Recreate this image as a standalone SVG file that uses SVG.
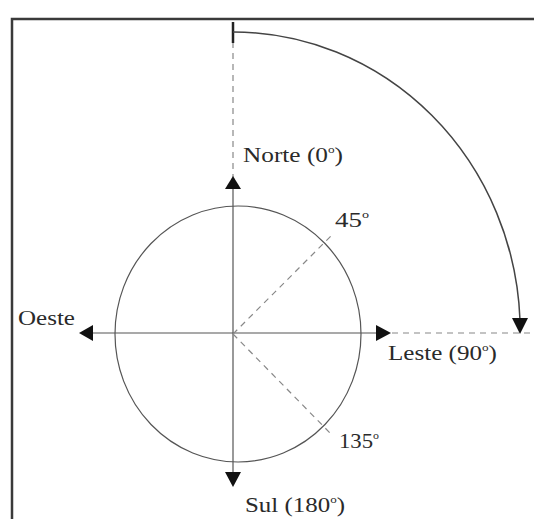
<svg xmlns="http://www.w3.org/2000/svg" width="534" height="519" viewBox="0 0 534 519">
<style>
.frame{fill:none;stroke:#3a3a3a;stroke-width:2.5}
.solid{fill:none;stroke:#555;stroke-width:1.2}
.dash{fill:none;stroke:#888;stroke-width:1.2;stroke-dasharray:6 5}
.arc{fill:none;stroke:#444;stroke-width:1.5}
.head{fill:#111}
text{font-family:"Liberation Serif","Times New Roman",serif;font-size:21px;fill:#2a2a2a}
.sup{font-size:11px}
</style>
<rect width="534" height="519" fill="#fff"/>
<g id="frame">
<path class="frame" d="M534,19 H12 V519"/>
</g>
<g id="circle">
<ellipse class="solid" cx="238" cy="334" rx="123" ry="128"/>
</g>
<g id="connectors">
<line class="solid" x1="233" y1="189" x2="233" y2="472"/>
<line class="solid" x1="93" y1="333" x2="376" y2="333"/>
<line class="dash" x1="233" y1="42" x2="233" y2="177"/>
<line class="dash" x1="392" y1="333" x2="534" y2="333"/>
<line class="dash" x1="233" y1="334" x2="332" y2="235"/>
<line class="dash" x1="233" y1="334" x2="332" y2="435"/>
<line x1="233" y1="22" x2="233" y2="43" stroke="#222" stroke-width="2.5"/>
<path class="arc" d="M233,32 A287,300 0 0 1 520,320"/>
<polygon class="head" points="225,189 241,189 233,176"/>
<polygon class="head" points="225,472 241,472 233,487"/>
<polygon class="head" points="93,325 93,341 79,333"/>
<polygon class="head" points="376,325 376,341 391,333"/>
<polygon class="head" points="512,318 528,318 520,334"/>
</g>
<g id="norte"><text x="243" y="162" textLength="100" lengthAdjust="spacingAndGlyphs">Norte (0<tspan class="sup" dy="-9">o</tspan><tspan dy="9">)</tspan></text></g>
<g id="oeste"><text x="18" y="325" textLength="57" lengthAdjust="spacingAndGlyphs">Oeste</text></g>
<g id="leste"><text x="388" y="360" textLength="109" lengthAdjust="spacingAndGlyphs">Leste (90<tspan class="sup" dy="-9">o</tspan><tspan dy="9">)</tspan></text></g>
<g id="sul"><text x="245" y="512" textLength="100" lengthAdjust="spacingAndGlyphs">Sul (180<tspan class="sup" dy="-9">o</tspan><tspan dy="9">)</tspan></text></g>
<g id="l45"><text x="335" y="227" textLength="34" lengthAdjust="spacingAndGlyphs">45<tspan class="sup" dy="-9">o</tspan></text></g>
<g id="l135"><text x="339" y="448" textLength="40" lengthAdjust="spacingAndGlyphs">135<tspan class="sup" dy="-9">o</tspan></text></g>
</svg>
